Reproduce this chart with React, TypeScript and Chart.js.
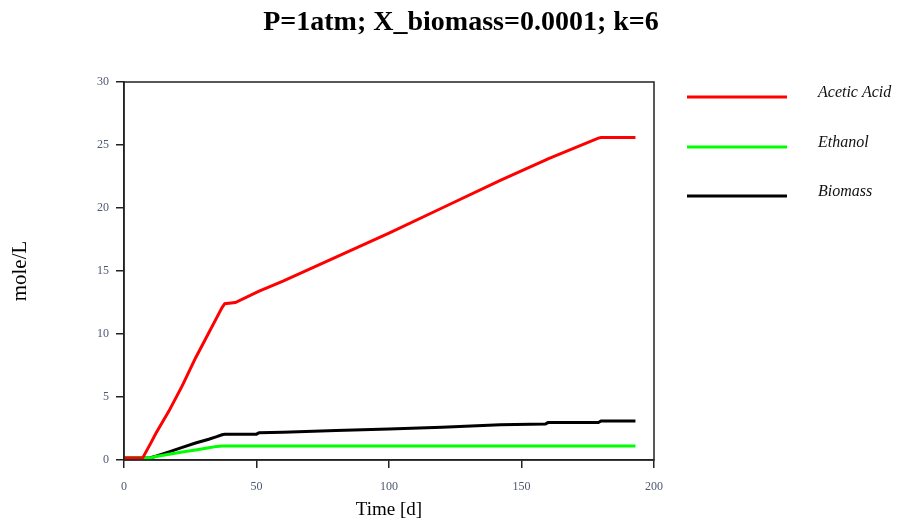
import React, { useEffect, useRef } from "react";
import { Chart, registerables } from "chart.js";

Chart.register(...registerables);

// Simulation time points [d]
const timeDays = [0, 7, 10, 12, 17, 22, 27, 32, 35, 37, 38, 42, 50, 51, 60, 80, 100, 120, 142, 159, 160, 179, 180, 193];

// Concentrations [mole/L] at each time point
const aceticAcid = [0.15, 0.15, 1.3, 2.1, 3.9, 5.9, 8.1, 10.1, 11.3, 12.1, 12.4, 12.5, 13.3, 13.4, 14.2, 16.1, 18.0, 20.0, 22.2, 23.8, 23.9, 25.55, 25.6, 25.6];
const ethanol = [0.15, 0.15, 0.17, 0.28, 0.45, 0.63, 0.8, 0.97, 1.08, 1.12, 1.12, 1.12, 1.12, 1.12, 1.12, 1.12, 1.12, 1.12, 1.12, 1.12, 1.12, 1.12, 1.12, 1.12];
const biomass = [0.15, 0.15, 0.18, 0.3, 0.65, 1.0, 1.35, 1.65, 1.85, 2.0, 2.05, 2.05, 2.05, 2.17, 2.2, 2.35, 2.47, 2.6, 2.8, 2.85, 2.97, 2.98, 3.1, 3.1];

const seriesNames = ["Acetic Acid", "Ethanol", "Biomass"];
const seriesColors = ["#ff0000", "#00ff00", "#000000"];
const seriesValues = [aceticAcid, ethanol, biomass];

const chartTitle = "P=1atm; X_biomass=0.0001; k=6";
const xAxisTitle = "Time [d]";
const yAxisTitle = "mole/L";

const SERIF = "'Liberation Serif', 'Times New Roman', serif";

// Title, plot frame and the side legend are painted directly on the canvas
const decorPlugin = {
  id: "decor",
  afterDatasetsDraw(chart: any) {
    const { ctx, chartArea } = chart;
    ctx.save();
    // frame around the plot area
    ctx.strokeStyle = "#222";
    ctx.lineWidth = 1.5;
    ctx.strokeRect(chartArea.left, chartArea.top, chartArea.right - chartArea.left, chartArea.bottom - chartArea.top);

    // title
    ctx.fillStyle = "#000";
    ctx.font = `bold 28px ${SERIF}`;
    ctx.textAlign = "center";
    ctx.textBaseline = "alphabetic";
    ctx.fillText(chartTitle, 461, 30);

    // legend
    const rows = [97, 147, 196];
    chart.data.datasets.forEach((ds: any, i: number) => {
      const y = rows[i];
      ctx.strokeStyle = ds.borderColor;
      ctx.lineWidth = 3;
      ctx.beginPath();
      ctx.moveTo(687, y);
      ctx.lineTo(787, y);
      ctx.stroke();
      ctx.fillStyle = "#111";
      ctx.font = `italic 16px ${SERIF}`;
      ctx.textAlign = "left";
      ctx.textBaseline = "middle";
      ctx.fillText(ds.label, 818, y - 4);
    });
    ctx.restore();
  },
};

export default function App() {
  const canvasRef = useRef<HTMLCanvasElement | null>(null);

  useEffect(() => {
    if (!canvasRef.current) return;
    const datasets = seriesNames.map((name, i) => ({
      label: name,
      data: timeDays.map((t, j) => ({ x: t, y: seriesValues[i][j] })),
      borderColor: seriesColors[i],
      backgroundColor: seriesColors[i],
      borderWidth: 3,
      pointRadius: 0,
      tension: 0,
      fill: false,
    }));

    const tickFont = { family: SERIF, size: 12 };
    const tickColor = "#4f5870";
    const chart = new Chart(canvasRef.current, {
      type: "line",
      data: { datasets },
      plugins: [decorPlugin],
      options: {
        responsive: false,
        animation: false,
        layout: { padding: { left: 0, top: 82, right: 244, bottom: 0 } },
        plugins: {
          legend: { display: false },
          title: { display: false },
          tooltip: { enabled: false },
        },
        scales: {
          x: {
            type: "linear",
            min: 0,
            max: 200,
            ticks: { stepSize: 50, color: tickColor, font: tickFont, padding: 12, maxRotation: 0 },
            grid: { drawOnChartArea: false, drawTicks: true, tickLength: 8, color: "#222", lineWidth: 1.5 },
            border: { display: true, color: "#222", width: 1.5 },
            title: { display: true, text: xAxisTitle, color: "#000", font: { family: SERIF, size: 19 }, padding: { top: 0, bottom: 1 } },
            afterFit(scale: any) {
              scale.height = 62;
            },
          },
          y: {
            type: "linear",
            min: 0,
            max: 30,
            ticks: { stepSize: 5, color: tickColor, font: tickFont, padding: 7 },
            grid: { drawOnChartArea: false, drawTicks: true, tickLength: 8, color: "#222", lineWidth: 1.5 },
            border: { display: true, color: "#222", width: 1.5 },
            title: { display: true, text: yAxisTitle, color: "#000", font: { family: SERIF, size: 21 }, padding: { top: 8, bottom: 0 } },
            afterFit(scale: any) {
              scale.width = 124;
            },
          },
        },
      },
    });
    return () => chart.destroy();
  }, []);

  return (
    <div style={{ position: "absolute", left: 0, top: 0, width: 898, height: 522, background: "#fff" }}>
      <canvas ref={canvasRef} width={898} height={522} style={{ display: "block" }} />
    </div>
  );
}
